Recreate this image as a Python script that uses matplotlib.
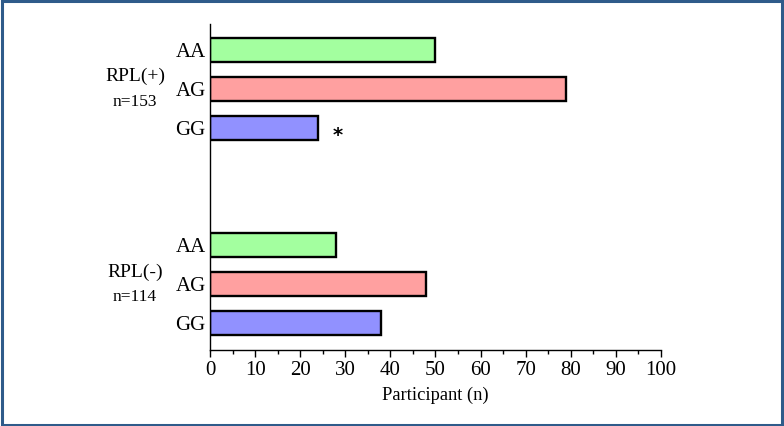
import matplotlib
matplotlib.use("Agg")
import matplotlib.pyplot as plt
from matplotlib.patches import Rectangle
from matplotlib.ticker import MultipleLocator
import matplotlib.transforms as mtransforms

plt.rcParams['font.family'] = ['Liberation Serif', 'DejaVu Serif']

genotypes = ["AA", "AG", "GG"]
groups = ["RPL(+)", "RPL(-)"]
group_n = ["n=153", "n=114"]
rpl_pos = [50, 79, 24]
rpl_neg = [28, 48, 38]
colors = ["#a3ff9f", "#ffa0a0", "#9191ff"]
xticks = list(range(0, 101, 10))

fig = plt.figure(figsize=(7.84, 4.26), dpi=100)
ax = fig.add_axes([210/784, 1-350/426, 451/784, 326/426])

pos_y = [0, 1, 2]
neg_y = [5, 6, 7]
ax.barh(pos_y, rpl_pos, height=0.62, color=colors, edgecolor="black", linewidth=1.7)
ax.barh(neg_y, rpl_neg, height=0.62, color=colors, edgecolor="black", linewidth=1.7)

ax.set_xlim(0, 100)
ax.set_ylim(7.69, -0.67)
ax.set_yticks(pos_y + neg_y)
ax.set_yticklabels(genotypes + genotypes, fontsize=15)
ax.tick_params(axis="y", length=0, pad=3)
ax.set_xticks(xticks)
ax.set_xticklabels([str(t) for t in xticks], fontsize=15)
ax.xaxis.set_minor_locator(MultipleLocator(5))
ax.tick_params(axis="x", which="major", length=5, width=1, direction="out", pad=3)
ax.tick_params(axis="x", which="minor", length=3, width=1, direction="out")
ax.spines["top"].set_visible(False)
ax.spines["right"].set_visible(False)
ax.spines["left"].set_linewidth(1)
ax.spines["bottom"].set_linewidth(1)
ax.set_xlabel("Participant (n)", fontsize=13.3, labelpad=5)

# significance marker
ax.annotate("*", xy=(rpl_pos[2], pos_y[2]), xytext=(14, -5), textcoords="offset points",
            ha="center", va="center", fontsize=14, fontweight="bold",
            family=["DejaVu Sans"])

trans = mtransforms.blended_transform_factory(ax.transAxes, ax.transData)
ax.text(-0.166, 0.67, groups[0], transform=trans, ha="center", va="center", fontsize=14)
ax.text(-0.166, 1.33, group_n[0], transform=trans, ha="center", va="center", fontsize=12.5)
ax.text(-0.166, 5.69, groups[1], transform=trans, ha="center", va="center", fontsize=14)
ax.text(-0.166, 6.33, group_n[1], transform=trans, ha="center", va="center", fontsize=12.5)

fig.patches.append(Rectangle((0.002, 0.003), 0.996, 0.994, transform=fig.transFigure,
                             fill=False, edgecolor="#2f5b8a", linewidth=2.2))

fig.savefig("out.png", dpi=100)
